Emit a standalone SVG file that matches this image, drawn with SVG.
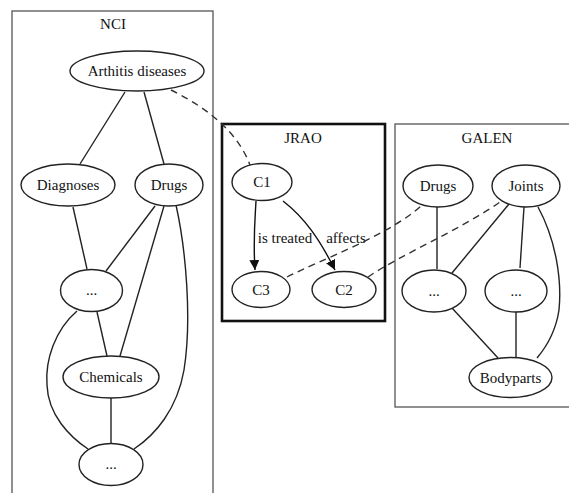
<svg xmlns="http://www.w3.org/2000/svg" width="569" height="493" viewBox="0 0 569 493" font-family="'Liberation Serif', 'DejaVu Serif', serif">
  <defs>
    <marker id="arrow" viewBox="0 0 10 10" refX="10" refY="5" markerWidth="10" markerHeight="10" markerUnits="userSpaceOnUse" orient="auto">
      <path d="M0,0 L10,5 L0,10 Z" fill="#111"/>
    </marker>
    <style>
      .cluster { fill: none; stroke: #555; stroke-width: 1.3; }
      .cluster-bold { fill: none; stroke: #111; stroke-width: 2.6; }
      .node ellipse { fill: #fff; stroke: #222; stroke-width: 1.4; }
      text { font-family: 'Liberation Serif', 'DejaVu Serif', serif; font-size: 15px; fill: #111; text-anchor: middle; }
      .edge { fill: none; stroke: #222; stroke-width: 1.4; }
      .dash { fill: none; stroke: #333; stroke-width: 1.4; stroke-dasharray: 7 5; }
      .arc { fill: none; stroke: #111; stroke-width: 1.4; marker-end: url(#arrow); }
    </style>
  </defs>
  <rect width="569" height="493" fill="#fff"/>

  <!-- clusters -->
  <g id="cluster-nci">
    <rect class="cluster" x="12" y="11" width="201" height="495"/>
    <text x="113" y="29">NCI</text>
  </g>
  <g id="cluster-jrao">
    <rect class="cluster-bold" x="222" y="124" width="163" height="197"/>
    <text x="303" y="143">JRAO</text>
  </g>
  <g id="cluster-galen">
    <rect class="cluster" x="395" y="124" width="190" height="283"/>
    <text x="487" y="143">GALEN</text>
  </g>

  <!-- connectors -->
  <g id="connectors">
    <!-- NCI -->
    <path class="edge" d="M125,92 L80,164"/>
    <path class="edge" d="M144,92 L164,164"/>
    <path class="edge" d="M73,207 L87,269"/>
    <path class="edge" d="M155,206 L106,271"/>
    <path class="edge" d="M164,206 L120,356"/>
    <path class="edge" d="M176,205 C186,250 192,320 184,370 C177,410 155,435 134,449"/>
    <path class="edge" d="M97,312 L107,356"/>
    <path class="edge" d="M111,398 L111,443"/>
    <path class="edge" d="M77,311 C55,330 45,360 47,385 C48,415 70,437 88,449"/>
    <!-- JRAO -->
    <path class="arc" d="M256,201 C255,220 253,240 255,270"/>
    <path class="arc" d="M283,201 C305,218 320,240 335,270"/>
    <text x="285" y="243">is treated</text>
    <text x="346" y="243">affects</text>
    <!-- GALEN -->
    <path class="edge" d="M437,207 L437,269"/>
    <path class="edge" d="M509,204 L452,273"/>
    <path class="edge" d="M524,207 L520,268"/>
    <path class="edge" d="M538,207 C556,240 562,280 559,310 C556,330 548,345 537,358"/>
    <path class="edge" d="M452,308 L498,358"/>
    <path class="edge" d="M516,312 L516,357"/>
    <!-- mappings between ontologies -->
    <path class="dash" d="M171,90 C195,102 235,125 250,165"/>
    <path class="dash" d="M287,277 C320,260 390,235 422,205"/>
    <path class="dash" d="M368,277 C400,255 460,230 500,202"/>
  </g>

  <!-- NCI nodes -->
  <g id="nci-arthitis" class="node"><ellipse cx="137" cy="71" rx="67" ry="20"/><text x="137" y="76">Arthitis diseases</text></g>
  <g id="nci-diagnoses" class="node"><ellipse cx="68" cy="185" rx="47" ry="21"/><text x="68" y="190">Diagnoses</text></g>
  <g id="nci-drugs" class="node"><ellipse cx="169" cy="185" rx="34" ry="21"/><text x="169" y="190">Drugs</text></g>
  <g id="nci-more1" class="node"><ellipse cx="91.5" cy="290.5" rx="31" ry="21"/><text x="91.5" y="295">...</text></g>
  <g id="nci-chemicals" class="node"><ellipse cx="111" cy="377" rx="48" ry="21"/><text x="111" y="382">Chemicals</text></g>
  <g id="nci-more2" class="node"><ellipse cx="111" cy="464.5" rx="32" ry="21"/><text x="111" y="469">...</text></g>

  <!-- JRAO nodes -->
  <g id="jrao-c1" class="node"><ellipse cx="262" cy="182" rx="30" ry="18.5"/><text x="262" y="187">C1</text></g>
  <g id="jrao-c3" class="node"><ellipse cx="261" cy="289.5" rx="29" ry="18"/><text x="261" y="294.5">C3</text></g>
  <g id="jrao-c2" class="node"><ellipse cx="344" cy="289.5" rx="32" ry="18"/><text x="344" y="294.5">C2</text></g>

  <!-- GALEN nodes -->
  <g id="galen-drugs" class="node"><ellipse cx="438" cy="186" rx="35" ry="21"/><text x="438" y="191">Drugs</text></g>
  <g id="galen-joints" class="node"><ellipse cx="526" cy="186" rx="34" ry="21"/><text x="526" y="191">Joints</text></g>
  <g id="galen-more1" class="node"><ellipse cx="434" cy="291" rx="32" ry="21"/><text x="434" y="296">...</text></g>
  <g id="galen-more2" class="node"><ellipse cx="516" cy="291" rx="31" ry="21"/><text x="516" y="296">...</text></g>
  <g id="galen-bodyparts" class="node"><ellipse cx="510.5" cy="377.5" rx="41.5" ry="20"/><text x="510.5" y="382.5">Bodyparts</text></g>
</svg>
